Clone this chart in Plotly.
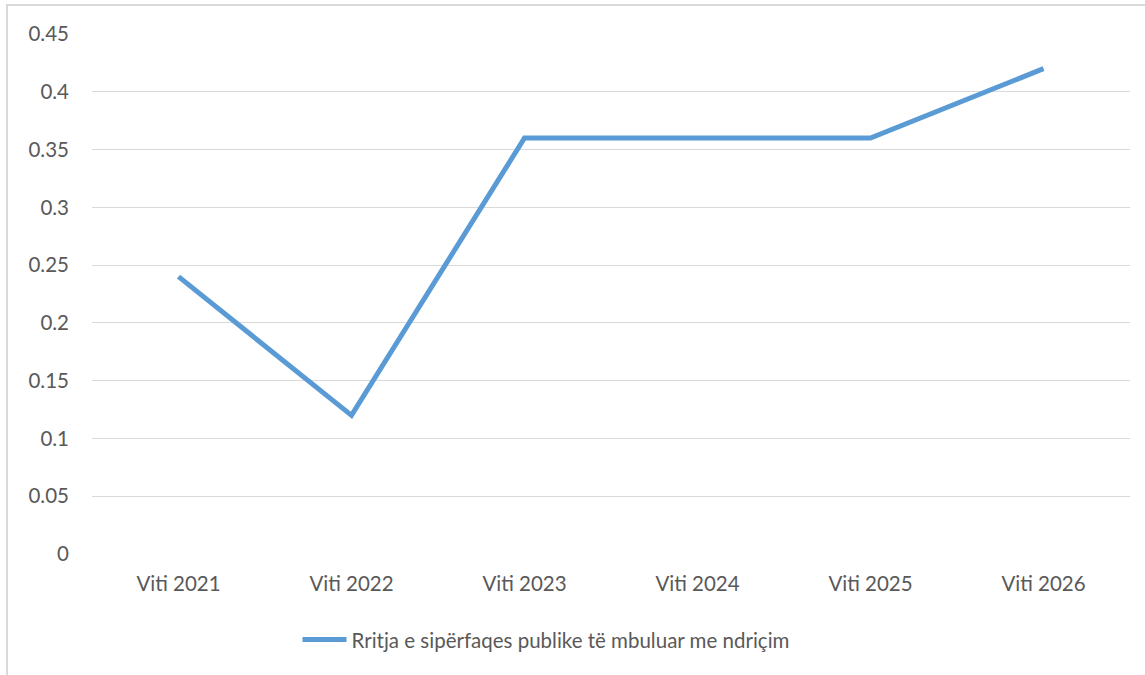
import plotly.graph_objects as go

categories = ["Viti 2021", "Viti 2022", "Viti 2023", "Viti 2024", "Viti 2025", "Viti 2026"]
values = [0.24, 0.12, 0.36, 0.36, 0.36, 0.42]
series_name = "Rritja e sipërfaqes publike të mbuluar me ndriçim"
y_ticks = [0, 0.05, 0.1, 0.15, 0.2, 0.25, 0.3, 0.35, 0.4, 0.45]
y_tick_labels = ["0", "0.05", "0.1", "0.15", "0.2", "0.25", "0.3", "0.35", "0.4", "0.45"]

W, H = 1145, 675
L, R, T, B = 92, 15, 34, 121
pw = W - L - R
ph = H - T - B

fig = go.Figure()
fig.add_trace(go.Scatter(
    x=categories, y=values, mode="lines", name=series_name,
    line=dict(color="#5B9BD5", width=5),
))

font_family = "Lato, 'Open Sans', sans-serif"
fig.update_layout(
    width=W, height=H,
    margin=dict(l=L, r=R, t=T, b=B, autoexpand=False),
    paper_bgcolor="white", plot_bgcolor="white",
    font=dict(family=font_family, size=20.5, color="#595959"),
    showlegend=True,
    legend=dict(
        orientation="h", x=(546 - L) / pw, xanchor="center", y=-0.165, yanchor="middle",
        font=dict(size=20.5, color="#595959"), itemwidth=44,
    ),
    xaxis=dict(
        type="category", range=[-0.5, 5.5], showgrid=False, showline=False,
        ticks="", zeroline=False, ticklabelstandoff=15,
    ),
    yaxis=dict(
        range=[0, 0.45], tickvals=y_ticks, ticktext=y_tick_labels,
        showgrid=True, gridcolor="#D9D9D9", gridwidth=1.3,
        zeroline=False, showline=False, ticks="", ticklabelstandoff=22,
    ),
    shapes=[dict(
        type="rect", xref="paper", yref="paper",
        x0=(7 - L) / pw, x1=1.2, y0=-0.4, y1=(H - B - 5) / ph,
        line=dict(color="#D9D9D9", width=2), layer="below",
    )],
)

fig.write_html(
    "out.html",
    config={"displayModeBar": False},
    post_script="document.body.style.margin='0';",
)
